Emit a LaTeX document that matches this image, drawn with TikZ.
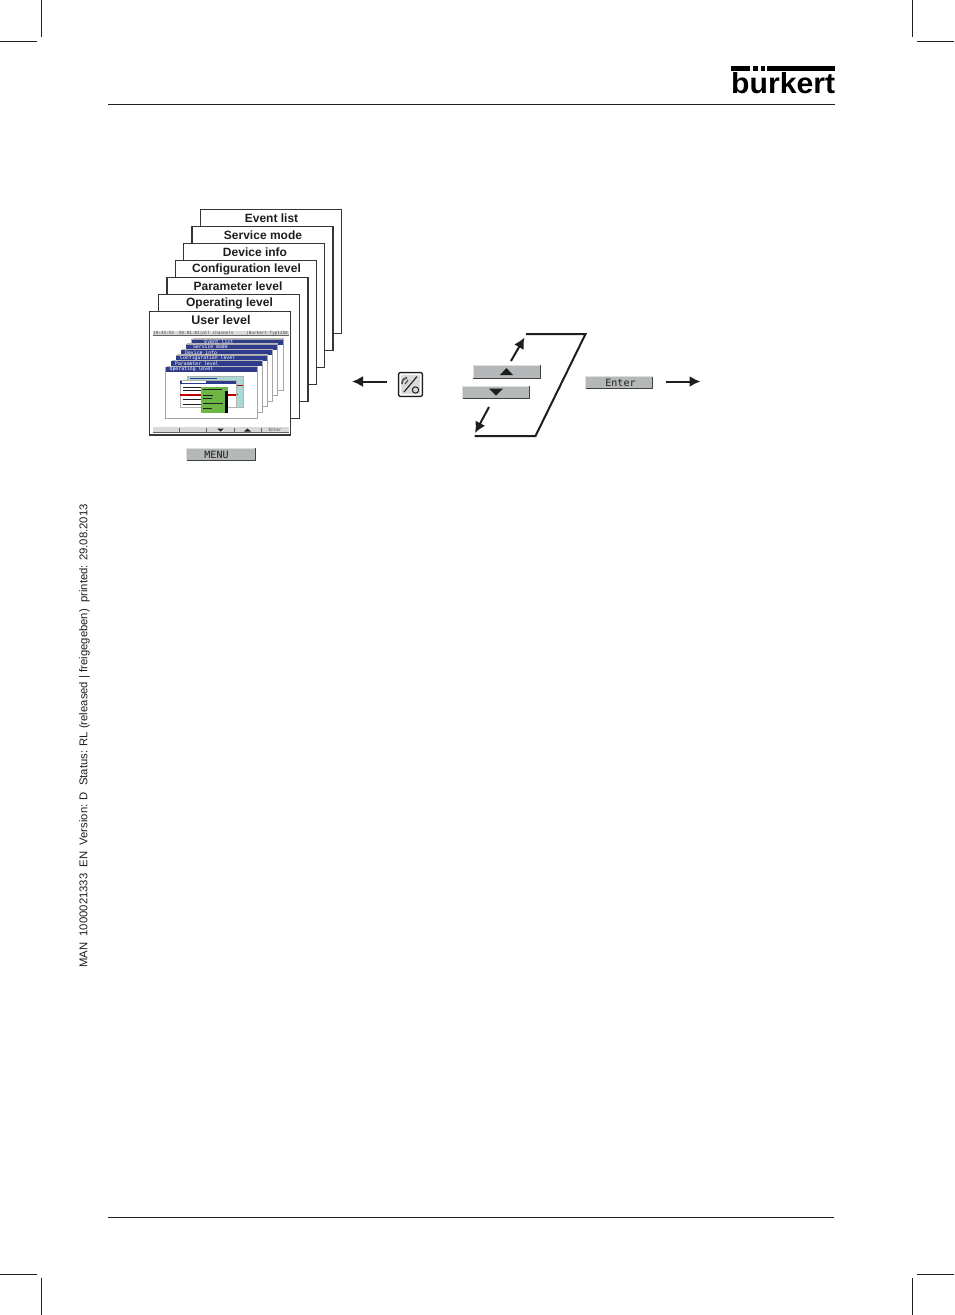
\documentclass[tikz,border=0pt]{standalone}
\usepackage{fontspec}
\usepackage{graphicx}
\setmainfont{Liberation Sans}
\newfontfamily\scrmono{DejaVu Sans Mono}
\definecolor{navy}{HTML}{2F3C8C}
\definecolor{btngray}{HTML}{B4B8B8}
\definecolor{panelgreen}{HTML}{6DB544}
\definecolor{tealpanel}{HTML}{A9DAD6}
\definecolor{ink}{HTML}{1E1E1E}
\usetikzlibrary{arrows.meta}
\tikzset{
  crop/.style={line width=0.6pt,draw=ink},
  rule/.style={line width=1pt,draw=ink},
  sheet/.style={draw=ink!90,fill=white,line width=1.5pt},
  sheettitle/.style={font=\bfseries\fontsize{12}{12}\selectfont,text=ink,inner sep=0pt},
  btnbody/.style={fill=btngray,draw=none},
  btnlight/.style={draw=gray!25,line width=1pt},
  btndark/.style={draw=ink!85,line width=1pt},
  btntext/.style={font=\scrmono\fontsize{10}{10}\selectfont,text=ink,inner sep=0pt},
  flow/.style={line width=2pt,draw=ink},
  flowarrow/.style={line width=2pt,draw=ink,-{Latex[length=11pt,width=11pt]}},
  win/.style={draw=gray!70,fill=white,line width=0.6pt},
  wintitle/.style={fill=navy,draw=none},
  wintext/.style={font=\scrmono\fontsize{4.8}{5}\selectfont,text=white,inner sep=0pt,anchor=west},
  scrtext/.style={font=\scrmono\fontsize{4.3}{5}\selectfont,text=ink!80,inner sep=0pt},
  barline/.style={line width=1pt,draw=ink},
}
\newcommand{\pagebox}[6]{% name, x, y, text, textx, texty
  \draw[sheet] (#2,#3) rectangle ++(141,124);
  \node[sheettitle] (#1) at (#5,#6) {#4};
}
\newcommand{\button}[5]{% name,x1,y1,x2,y2
  \fill[btnbody] (#2,#3) rectangle (#4,#5);
  \draw[btnlight] (#2,#5) -- (#2,#3) -- (#4,#3);
  \draw[btndark] (#2,#5) -- (#4,#5) -- (#4,#3);
  \coordinate (#1) at ({(#2+#4)/2},{(#3+#5)/2});
}
\newcommand{\scrwin}[4]{% x, y, label, name
  \fill[gray!55] (#1+1,#2-1.5) rectangle (#1+92,#2+1);
  \draw[win] (#1,#2) rectangle (#1+91.5,#2+51);
  \fill[wintitle] (#1,#2) rectangle (#1+91,#2+5);
  \node[wintext] (#4) at (#1+4,#2+2.5) {#3};
}
\begin{document}
\begin{tikzpicture}[x=1pt,y=-1pt]
\useasboundingbox (0,0) rectangle (954,1315);
\fill[white] (0,0) rectangle (954,1315);
% crop marks
\draw[crop] (41,0) -- (41,37);
\draw[crop] (0,41) -- (37,41);
\draw[crop] (912.5,0) -- (912.5,37);
\draw[crop] (917,41) -- (954,41);
\draw[crop] (0,1274) -- (37,1274);
\draw[crop] (41,1278) -- (41,1315);
\draw[crop] (917,1274) -- (954,1274);
\draw[crop] (912.5,1278) -- (912.5,1315);
% rules
\draw[rule] (108,104.5) -- (835,104.5);
\draw[rule] (108,1217) -- (834,1217);
% logo
\node[inner sep=0pt,anchor=south west] (logo) at (731,93.8)
  {\resizebox{104pt}{21pt}{\bfseries b\"urkert}};
\fill[white] (749,71) rectangle (767,77.3);
\fill[black] (731,66.2) rectangle (750,70.8);
\fill[black] (753,66.2) rectangle (758,70.8);
\fill[black] (760.5,66.2) rectangle (764.5,70.8);
\fill[black] (767,66.2) rectangle (835,70.8);
% side text
\node[rotate=90,inner sep=0pt,font=\fontsize{11.3}{12}\selectfont,text=ink] (side) at (84.5,736)
  {MAN\ \ 1000021333\ \ EN\ \ Version: D\ \ Status: RL (released | freigegeben)\ \ printed: 29.08.2013};
% stacked pages
\pagebox{p1}{200.5}{209.5}{Event list}{271.5}{218.7}
\pagebox{p2}{192}{226.5}{Service mode}{263}{235.7}
\pagebox{p3}{183.5}{243.5}{Device info}{255}{252.7}
\pagebox{p4}{175.5}{260.5}{Configuration level}{246.5}{269.7}
\pagebox{p5}{167}{277.5}{Parameter level}{238}{286.5}
\pagebox{p6}{158.5}{294.5}{Operating level}{229.5}{303.3}
\draw[sheet] (149.5,311.5) rectangle (290.5,435);
\node[inner sep=0pt,font=\bfseries\fontsize{12.5}{13}\selectfont,text=ink] (p7) at (221,320) {User level};
% screen status bar
\fill[gray!30] (152.5,330.5) rectangle (289,335.5);
\draw[ink!70,line width=0.5pt] (152.5,335.5) -- (289,335.5);
\node[scrtext,anchor=west] (st1) at (153,333) {10:45:55\ \ 05.01.01|all channels};
\node[scrtext,anchor=east] (st2) at (288,333) {|Burkert Typ1250};
% screen windows
\scrwin{191.5}{339.5}{\ \ \ Event list}{w1}
\scrwin{186}{344.5}{\ Service mode}{w2}
\scrwin{181}{350}{Device info}{w3}
\scrwin{176}{355.5}{Configuration level}{w4}
\scrwin{171}{361}{Parameter level}{w5}
\scrwin{165.5}{367}{Operating level}{w6}
% inner detail
\draw[gray!60,fill=tealpanel,line width=0.4pt] (187,376.5) rectangle (243.5,407.5);
\fill[white] (187,381) rectangle (237,402);
\draw[navy,line width=1pt] (190,378.5) -- (217,378.5);
\draw[red!75!black,line width=1pt] (228,385.5) -- (243,385.5);
\draw[red!75!black,line width=1pt] (228,394.5) -- (238,394.5);
\draw[gray!60,fill=white,line width=0.4pt] (180,380.5) rectangle (236,407.5);
\fill[navy] (180,380.5) rectangle (236,383.5);
\fill[white] (182,381.3) rectangle (206,382.7);
\draw[barline] (183,387) -- (205,387);
\draw[barline] (183,390) -- (205,390);
\draw[red!75!black,line width=1.2pt] (180,395) -- (236,395);
\draw[barline] (183,399.5) -- (205,399.5);
\draw[barline] (183,404) -- (205,404);
\fill[panelgreen] (201,387) rectangle (227.5,413);
\fill[black] (225,391) rectangle (228,413);
\draw[line width=1pt,ink] (203,389.5) -- (222,389.5);
\draw[line width=1pt,ink] (203,395.5) -- (213,395.5);
\draw[line width=1pt,ink] (203,398.5) -- (212,398.5);
\draw[line width=1pt,ink] (203,403.5) -- (223,403.5);
\draw[line width=1pt,ink] (203,408) -- (212,408);
% screen softkeys
\fill[gray!30] (152.5,427) rectangle (289,432.5);
\draw[ink!70,line width=0.5pt] (152.5,432.5) -- (289,432.5);
\foreach \sx in {179,206.5,234,261.5} {\draw[ink!70,line width=0.5pt] (\sx,428) -- (\sx,432.5);}
\fill[ink] (217,428.5) -- (224,428.5) -- (220.5,431.5) -- cycle;
\fill[ink] (244,431.5) -- (251,431.5) -- (247.5,428.5) -- cycle;
\node[scrtext] (sk) at (275,430) {Enter};
% MENU button
\button{menu}{186.5}{448}{255}{460}
\node[btntext] (menut) at (216.5,454.5) {MENU};
% key icon
\node[draw=ink,line width=1.2pt,fill=gray!30,rounded corners=1.5pt,minimum width=24pt,minimum height=24pt,inner sep=0pt] (key) at (410.5,384.5) {};
\draw[white,line width=0.7pt] (400.5,374.5) rectangle (420.5,394.5);
\draw[ink,line width=1.1pt] (417,376.5) -- (404,392);
\draw[ink,line width=1pt] (415.5,390) circle (3.2pt);
\draw[ink!80,line width=1.6pt] (402,384) .. controls (402,380) and (404,378) .. (407,377.5);
\draw[ink!80,line width=1.2pt] (405,384) -- (408,380);
% arrows to the left and right
\coordinate (la) at (387,381.5);
\coordinate (lb) at (352,381.5);
\draw[flowarrow] (la) -- (lb);
% up and down buttons
\button{up}{473}{365}{540}{378}
\fill[ink] (500,375) -- (513,375) -- (506.5,368) -- cycle;
\button{down}{462.5}{386}{529}{398.5}
\fill[ink] (489,388.5) -- (503,388.5) -- (496,395.5) -- cycle;
% loop
\coordinate (l1) at (526,334);
\coordinate (l2) at (585.5,334);
\coordinate (l3) at (535.5,436);
\coordinate (l4) at (474.5,436);
\draw[flow] (l1) -- (l2) -- (l3) -- (l4);
\coordinate (ua) at (511,361);
\coordinate (ub) at (524.5,337.5);
\draw[flowarrow] (ua) -- (ub);
\coordinate (da) at (489,407);
\coordinate (db) at (475,433);
\draw[flowarrow] (da) -- (db);
% enter
\button{enter}{585.5}{376.5}{652.5}{388.5}
\node[btntext] (entert) at (620.5,383) {Enter};
\coordinate (ra) at (666,381.5);
\coordinate (rb) at (700.5,381.5);
\draw[flowarrow] (ra) -- (rb);
\end{tikzpicture}
\end{document}
